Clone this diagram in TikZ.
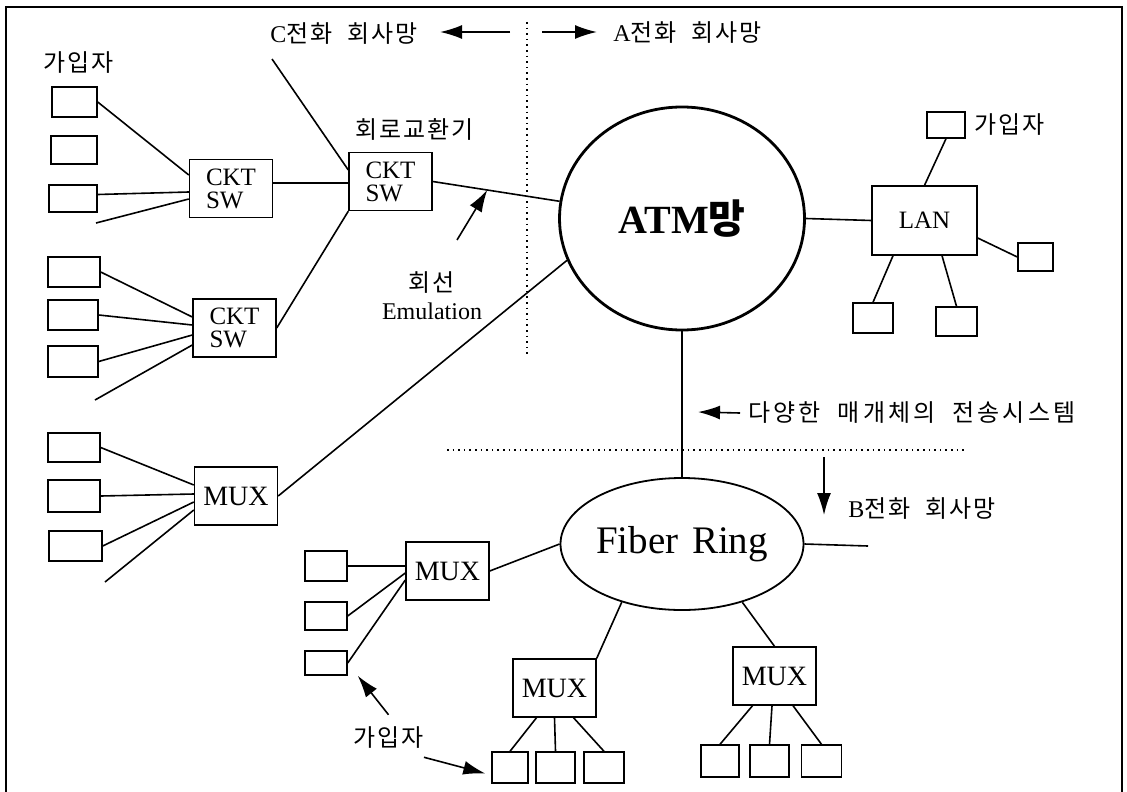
\documentclass[tikz,border=0pt]{standalone}
\usepackage{fontspec}
\setmainfont{Liberation Serif}
\newfontfamily\kr[LetterSpace=8, WordSpace=2]{Noto Sans CJK KR}
\usetikzlibrary{shapes.geometric, arrows.meta, calc}
\newcommand{\ko}[1]{{\kr #1}}

\begin{document}
\begin{tikzpicture}[x=0.5pt, y=-0.5pt,
    utente/.style={draw, line width=0.7pt, inner sep=0pt, minimum width=24pt, minimum height=15pt},
    nodo/.style={draw, line width=0.7pt, inner sep=0pt, minimum width=41.5pt, minimum height=29pt},
    ckt/.style={nodo, align=left, font=\fontsize{12.5}{11.5}\selectfont},
    mux/.style={nodo, font=\fontsize{14}{14}\selectfont},
    linea/.style={line width=0.8pt},
    freccia/.style={line width=0.8pt, -{Latex[length=11pt, width=7pt]}},
    confine/.style={dotted, line width=0.8pt},
    etichetta/.style={inner sep=0pt, font=\fontsize{12}{14}\selectfont}]
    % Parametri
    \pgfmathsetmacro{\xconf}{527}
    \pgfmathsetmacro{\yconf}{450}
    \useasboundingbox (0,0) rectangle (1127,791);
    % Cornice e confini
    \draw[line width=1pt] (6,7) rectangle (1122,800);
    \draw[confine] (\xconf,22) -- (\xconf,355);
    \draw[confine] (447,\yconf) -- (966,\yconf);
    % Reti
    \node[ellipse, draw, line width=1.4pt, inner sep=0pt, minimum width=122.5pt, minimum height=111.5pt, font=\bfseries\fontsize{20}{20}\selectfont] (atm) at (682,218.5) {ATM\ko{망}};
    \node[ellipse, draw, line width=0.9pt, inner sep=0pt, minimum width=105pt, minimum height=66pt, font=\fontsize{19.5}{19.5}\selectfont] (fib) at (682,544) {Fiber\hspace{0.35em}Ring};
    \node[nodo, minimum width=52.5pt, minimum height=34.5pt, font=\fontsize{12.5}{12.5}\selectfont] (lan) at (924.5,220.5) {LAN};
    % Commutatori
    \node[ckt] (ckt1) at (231,188.5) {CKT\\SW};
    \node[ckt] (ckt2) at (390.5,181.5) {CKT\\SW};
    \node[ckt] (ckt3) at (234.5,328) {CKT\\SW};
    \node[mux] (mux1) at (236,496) {MUX};
    \node[mux] (mux2) at (447.5,571) {MUX};
    \node[mux] (mux3) at (554.5,688) {MUX};
    \node[mux] (mux4) at (774.5,676) {MUX};
    % Utenti
    \node[utente, minimum width=22.5pt] (u1) at (74.5,102) {};
    \node[utente, minimum width=23pt, minimum height=14pt] (u2) at (74,150) {};
    \node[utente, minimum width=24pt, minimum height=13.5pt] (u3) at (73,198.5) {};
    \node[utente, minimum width=26pt] (u4) at (74,272) {};
    \node[utente, minimum width=25pt] (u5) at (73,315) {};
    \node[utente, minimum width=25pt, minimum height=15.5pt] (u6) at (73,361.5) {};
    \node[utente, minimum width=26pt, minimum height=14.5pt] (u7) at (74,447.5) {};
    \node[utente, minimum width=26pt, minimum height=16pt] (u8) at (74,496) {};
    \node[utente, minimum width=26.5pt] (u9) at (75.5,546) {};
    \node[utente, minimum width=21pt] (p1) at (326,566) {};
    \node[utente, minimum width=21pt, minimum height=14pt] (p2) at (326,616) {};
    \node[utente, minimum width=21pt, minimum height=12pt] (p3) at (326,663) {};
    \node[utente, minimum width=18pt, minimum height=15.5pt] (q1) at (510,767.5) {};
    \node[utente, minimum width=19.5pt, minimum height=15.5pt] (q2) at (555.5,767.5) {};
    \node[utente, minimum width=20pt, minimum height=15.5pt] (q3) at (604,767.5) {};
    \node[utente, minimum width=19pt, minimum height=16pt] (r1) at (720,761) {};
    \node[utente, minimum width=19.5pt, minimum height=16pt] (r2) at (769.5,761) {};
    \node[utente, minimum width=20pt, minimum height=16pt] (r3) at (821.5,761) {};
    \node[utente, minimum width=19pt, minimum height=13pt] (l1) at (946,125) {};
    \node[utente, minimum width=17.5pt, minimum height=14pt] (l2) at (1035.5,257) {};
    \node[utente, minimum width=20pt] (l3) at (873,318) {};
    \node[utente, minimum width=20.5pt, minimum height=14.5pt] (l4) at (956.5,321.5) {};
    % Estremi liberi
    \coordinate (f1) at (96,223);
    \coordinate (f2) at (95,400);
    \coordinate (f3) at (105,582);
    \coordinate (cfree) at (272,59);
    \coordinate (fibfree) at (868,546);
    \coordinate (sxcoda) at (510,32);
    \coordinate (sxpunta) at (440,32);
    \coordinate (dxcoda) at (542,32);
    \coordinate (dxpunta) at (597,32);
    \coordinate (emucoda) at (457,240);
    \coordinate (mezzipunta) at (698,412);
    \coordinate (bcoda) at (824,457);
    \coordinate (bpunta) at (824,515);
    % Etichette
    \node[etichetta, anchor=west] (gaip1) at (43,63) {\ko{가입자}};
    \node[etichetta, anchor=west] (gaip2) at ([xshift=4pt]l1.east) {\ko{가입자}};
    \node[etichetta] (gaip3) at (388.5,738) {\ko{가입자}};
    \node[etichetta] (rete) at (415,129) {\ko{회로교환기}};
    \node[etichetta, align=center] (emul) at (432,296) {\ko{회선}\\Emulation};
    \node[etichetta, anchor=west] (cnet) at (270,34) {C\ko{전화 회사망}};
    \node[etichetta, anchor=west] (anet) at (613,33) {A\ko{전화 회사망}};
    \node[etichetta, anchor=west] (bnet) at (848,509) {B\ko{전화 회사망}};
    \node[etichetta, anchor=west] (mezzi) at (748,413) {\ko{\addfontfeatures{LetterSpace=13}다양한 매개체의 전송시스템}};
    % Collegamenti a sinistra
    \draw[linea] (u1.east) -- ([yshift=6.75pt]ckt1.west);
    \draw[linea] ([yshift=2pt]u3.east) -- ([yshift=-1.75pt]ckt1.west);
    \draw[linea] (f1) -- ([yshift=-5.25pt]ckt1.west);
    \draw[linea] (u4.east) -- ([yshift=5.5pt]ckt3.west);
    \draw[linea] (u5.east) -- ([yshift=1.5pt]ckt3.west);
    \draw[linea] (u6.east) -- ([yshift=-3.5pt]ckt3.west);
    \draw[linea] (f2) -- ([yshift=-8.5pt]ckt3.west);
    \draw[linea] (u7.east) -- ([yshift=5.5pt]mux1.west);
    \draw[linea] (u8.east) -- ([yshift=1pt]mux1.west);
    \draw[linea] (u9.east) -- ([yshift=-3pt]mux1.west);
    \draw[linea] (f3) -- ([yshift=-7pt]mux1.west);
    % Collegamenti verso ATM
    \draw[linea] ([yshift=2.75pt]ckt1.east) -- ([yshift=-0.75pt]ckt2.west);
    \draw[linea] (cfree) -- ([yshift=5.75pt]ckt2.west);
    \draw[linea] (ckt3.east) -- (ckt2.south west);
    \draw[linea] (ckt2.east) -- coordinate[pos=0.43] (emu) (atm.172);
    \draw[linea] (mux1.east) -- (atm.200);
    % LAN
    \draw[linea] (atm.east) -- (lan.west);
    \draw[linea] (l1.south) -- (lan.north);
    \draw[linea] ([yshift=-8.75pt]lan.east) -- (l2.west);
    \draw[linea] (l3.north) -- ([xshift=-15.75pt]lan.south);
    \draw[linea] (l4.north) -- ([xshift=8.75pt]lan.south);
    % Fiber Ring
    \draw[linea] (atm.south) -- (atm.south |- fib.north);
    \draw[linea] (fib.east) -- (fibfree);
    \draw[linea] (mux2.east) -- (fib.west);
    \draw[linea] (fib.224) -- (mux3.north east);
    \draw[linea] (fib.316) -- (mux4.north);
    \draw[linea] (p1.east) -- ([yshift=2.5pt]mux2.west);
    \draw[linea] (p2.east) -- ([yshift=-1pt]mux2.west);
    \draw[linea] (p3.east) -- ([yshift=-4.5pt]mux2.west);
    \draw[linea] ([xshift=-9pt]mux3.south) -- (q1.north);
    \draw[linea] (mux3.south) -- (q2.north);
    \draw[linea] ([xshift=9.5pt]mux3.south) -- (q3.north);
    \draw[linea] ([xshift=-11pt]mux4.south) -- (r1.north);
    \draw[linea] ([xshift=-1.25pt]mux4.south) -- (r2.north);
    \draw[linea] ([xshift=9.25pt]mux4.south) -- (r3.north);
    % Frecce
    \draw[freccia] (sxcoda) -- (sxpunta);
    \draw[freccia] (dxcoda) -- (dxpunta);
    \draw[freccia] (emucoda) -- (emu);
    \draw[freccia] ([xshift=-4pt]mezzi.west) -- (mezzipunta);
    \draw[freccia] (bcoda) -- (bpunta);
    \draw[freccia] ([yshift=6pt]gaip3.north) -- ([xshift=5pt]p3.south east);
    \draw[freccia] ([yshift=-4pt]gaip3.south east) -- ([shift={(-3pt,-3pt)}]q1.west);
\end{tikzpicture}
\end{document}
